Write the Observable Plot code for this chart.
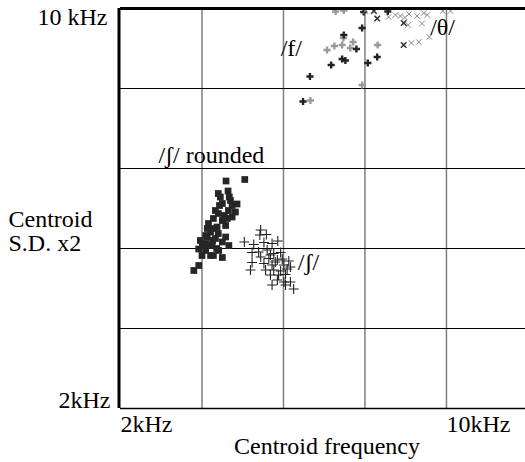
<!DOCTYPE html>
<html>
<head>
<meta charset="utf-8">
<script src="https://cdn.jsdelivr.net/npm/d3@7"></script>
<script src="https://cdn.jsdelivr.net/npm/@observablehq/plot@0.6"></script>
<style>
  html, body { margin: 0; padding: 0; background: #fff; }
</style>
</head>
<body>
<div id="chart"></div>
<script>
// Centroid frequency (kHz) vs. Centroid S.D. x2 (kHz)
const roundedSh = [
  [4.59,6.55],[5.05,6.58],[4.40,6.30],[4.64,6.35],[4.67,6.23],[4.50,6.10],[4.74,6.06],
  [4.82,5.93],[4.65,5.96],[4.40,5.90],[4.28,5.80],[4.50,5.76],[4.62,5.80],[4.16,5.70],
  [4.37,5.63],[4.58,5.66],[4.21,5.53],[4.40,5.50],[4.13,5.43],[4.33,5.40],[4.50,5.33],
  [3.96,5.36],[4.09,5.30],[4.25,5.26],[3.92,5.19],[4.41,5.16],[4.66,5.26],[4.21,5.06],
  [4.00,5.06],[4.50,5.02],[3.92,4.86],[3.80,4.76],[4.28,5.06],[4.09,5.16],[4.58,5.43],
  [4.74,5.83],[4.86,6.09],[4.33,5.96],[4.45,6.23],[4.09,5.46],[4.16,5.26],[4.26,5.36],
  [4.36,5.20],[4.01,5.26],[4.55,5.86],[4.70,6.16],[4.43,6.06],[4.28,5.60],[4.13,5.60]
];
const sh = [
  [5.44,5.57],[5.58,5.48],[5.42,5.47],[5.04,5.33],[5.27,5.28],[5.52,5.32],[5.72,5.30],
  [5.86,5.35],[5.23,5.12],[5.39,5.13],[5.60,5.17],[5.76,5.10],[5.93,5.12],[5.44,5.03],
  [5.64,5.00],[5.85,4.97],[5.23,4.92],[5.52,4.90],[5.72,4.87],[6.01,4.87],[6.13,4.95],
  [5.19,4.77],[5.56,4.77],[5.76,4.77],[5.93,4.75],[6.09,4.79],[6.17,4.83],[5.68,4.67],
  [5.88,4.67],[6.05,4.68],[5.85,4.57],[6.01,4.53],[6.17,4.53],[5.72,4.47],[6.05,4.47],
  [6.25,4.39],[5.68,5.07],[5.80,4.93],[5.97,4.99]
];
const fDark = [
  [7.93,9.61],[7.48,9.47],[7.79,9.19],[7.44,8.99],[7.52,8.96],[7.17,8.87],[6.65,8.64],
  [8.07,8.91],[8.30,9.03],[6.48,8.14],[7.97,9.93],[8.56,9.94]
];
const fLight = [
  [7.07,9.17],[7.25,9.25],[7.44,9.27],[7.64,9.21],[7.71,9.33],[7.47,9.41],[8.31,9.27],
  [7.93,8.47],[6.66,8.16],[7.28,9.94],[7.48,9.96]
];
const thDark = [
  [8.22,9.95],[8.30,9.80],[8.95,9.71],[8.95,9.27]
];
const thLight = [
  [8.58,9.83],[8.75,9.87],[8.87,9.85],[8.98,9.82],[9.08,9.89],[9.28,9.85],[9.44,9.91],
  [9.53,9.87],[9.06,9.67],[9.40,9.70],[9.14,9.31],[9.32,9.33],[9.58,9.43],[9.91,9.95],
  [10.10,9.95],[8.01,9.95]
];

// Grid and tick values (kHz)
const xGrid = [4, 6, 8, 10];
const yGrid = [3.6, 5.2, 6.8, 8.4];
const xTickLabels = [{v: 2, t: "2kHz"}, {v: 10, t: "10kHz"}];
const yTopLabel = [{v: 10, t: "10 kHz"}];
const yBottomLabel = [{v: 2, t: "2kHz"}];

// Cluster labels (anchored in data units)
const clusterLabels = [
  {x: 2.93, y: 7.06, t: "/ʃ/ rounded"},
  {x: 6.35, y: 4.92, t: "/ʃ/"},
  {x: 5.93, y: 9.20, t: "/f/"},
  {x: 9.60, y: 9.62, t: "/θ/"}
];

const xTitle = "Centroid frequency";
const yTitle = "Centroid\nS.D. x2";

const FONT = "'Liberation Serif', 'Times New Roman', serif";
const FS = 24;

const chart = Plot.plot({
  width: 525,
  height: 462,
  marginLeft: 120,
  marginRight: 0,
  marginTop: 8,
  marginBottom: 54,
  x: {domain: [2, 11.94], axis: null},
  y: {domain: [2, 10], axis: null},
  style: {fontFamily: FONT, background: "#fff", color: "#000"},
  marks: [
    Plot.ruleX(xGrid, {stroke: "#808080", strokeWidth: 1.5}),
    Plot.ruleY(yGrid, {stroke: "#000", strokeWidth: 1}),
    Plot.ruleY([2], {stroke: "#000", strokeWidth: 1.5}),
    Plot.dot(roundedSh, {x: d => d[0], y: d => d[1], symbol: "square", r: 3.8, fill: "#262626"}),
    Plot.dot(sh, {x: d => d[0], y: d => d[1], symbol: "plus", r: 3.3, stroke: "#222", strokeWidth: 1.1}),
    Plot.dot(fLight, {x: d => d[0], y: d => d[1], symbol: "cross", r: 3, fill: "#9a9a9a"}),
    Plot.dot(fDark, {x: d => d[0], y: d => d[1], symbol: "cross", r: 3, fill: "#222"}),
    Plot.dot(thLight, {x: d => d[0], y: d => d[1], symbol: "times", r: 2.6, stroke: "#8a8a8a", strokeWidth: 1}),
    Plot.dot(thDark, {x: d => d[0], y: d => d[1], symbol: "times", r: 2.6, stroke: "#333", strokeWidth: 1.6}),
    Plot.ruleX([2], {stroke: "#000", strokeWidth: 3, dx: -1.5}),
    Plot.ruleY([10], {stroke: "#000", strokeWidth: 3}),
    Plot.text(clusterLabels, {x: "x", y: "y", text: "t", textAnchor: "start", fontSize: FS, fontFamily: FONT, fill: "#000"}),
    Plot.text(xTickLabels, {x: "v", y: () => 2, text: "t", textAnchor: "start", lineAnchor: "middle", dy: 16, fontSize: FS, fontFamily: FONT, fill: "#000"}),
    Plot.text(yTopLabel, {x: () => 2, y: "v", text: "t", textAnchor: "end", lineAnchor: "middle", dx: -13, dy: 9, fontSize: FS, fontFamily: FONT, fill: "#000"}),
    Plot.text(yBottomLabel, {x: () => 2, y: "v", text: "t", textAnchor: "end", lineAnchor: "middle", dx: -10, dy: -8, fontSize: FS, fontFamily: FONT, fill: "#000"}),
    Plot.text([xTitle], {frameAnchor: "bottom", text: d => d, lineAnchor: "middle", dx: 4, dy: 38, fontSize: FS, fontFamily: FONT, fill: "#000"}),
    Plot.text([yTitle], {frameAnchor: "left", text: d => d, textAnchor: "start", lineAnchor: "middle", dx: -112, dy: 23, lineHeight: 0.98, fontSize: FS, fontFamily: FONT, fill: "#000"})
  ]
});
document.getElementById("chart").appendChild(chart);
</script>
</body>
</html>
